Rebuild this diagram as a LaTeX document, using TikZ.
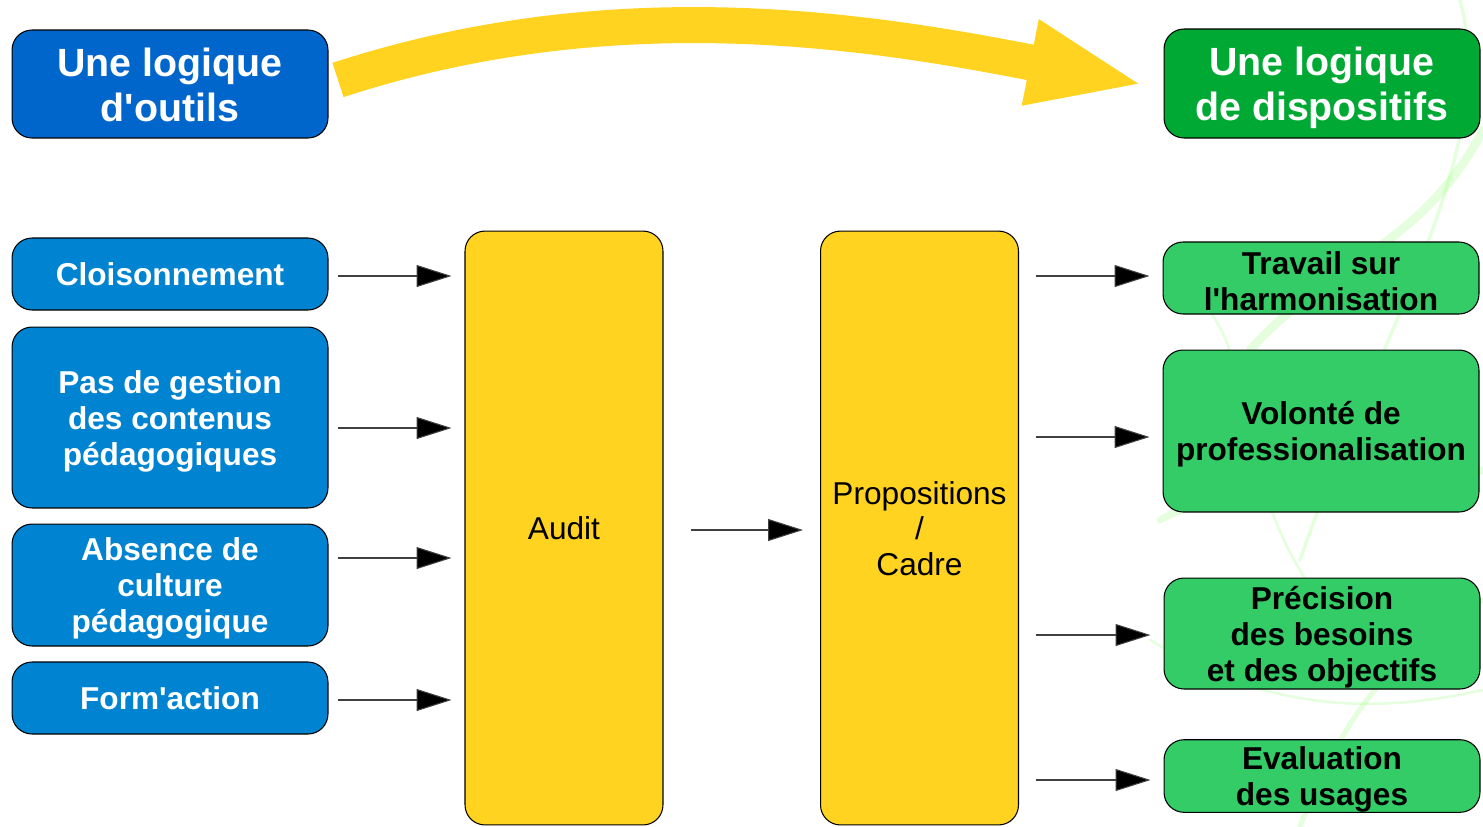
\documentclass[tikz,border=0pt]{standalone}
\usepackage{fontspec}
\setmainfont{Liberation Sans}
\usetikzlibrary{arrows.meta}

\definecolor{toolblue}{HTML}{0066CC}
\definecolor{itemblue}{HTML}{0084D1}
\definecolor{devgreen}{HTML}{00A933}
\definecolor{itemgreen}{HTML}{33CC66}
\definecolor{auditgold}{HTML}{FFD320}

\newcommand{\apos}{\textquotesingle}
\newcommand{\lead}[1][0.95em]{\rule{0pt}{#1}}

\begin{document}
\begin{tikzpicture}[x=0.02cm,y=-0.02cm,
    box/.style={draw=black,line width=0.6pt,rounded corners=0.4cm,minimum width=6.32cm,
      inner sep=0pt,align=center,font=\bfseries\fontsize{18}{20.4}\selectfont},
    titre/.style={box,text=white,minimum height=2.16cm,font=\bfseries\fontsize{22.4}{25.6}\selectfont},
    outil/.style={box,fill=itemblue,text=white},
    dispo/.style={box,fill=itemgreen,text=black},
    pillar/.style={box,fill=auditgold,minimum width=3.96cm,minimum height=11.88cm,
      font=\fontsize{18}{20.2}\selectfont},
    link/.style={draw=black!75,line width=0.6pt,-{Triangle[length=0.7cm,width=0.44cm,fill=black]}},
    smoke/.style={draw=green!70!lime,opacity=0.13,line cap=round}
  ]
  \useasboundingbox (0,0) rectangle (1483,826);

  % background wisps
  \draw[smoke,line width=5pt] (1483,130) .. controls (1420,250) and (1330,260) .. (1250,350);
  \draw[smoke,line width=2pt] (1460,0) .. controls (1500,150) and (1380,330) .. (1300,560);
  \draw[smoke,line width=4pt] (1160,520) .. controls (1250,470) and (1380,520) .. (1483,470);
  \draw[smoke,line width=1.5pt] (1200,300) .. controls (1260,360) and (1230,480) .. (1320,600);
  \draw[smoke,line width=3pt] (1483,600) .. controls (1400,650) and (1350,700) .. (1300,826);
  \draw[smoke,line width=1.5pt] (1150,640) .. controls (1250,700) and (1350,720) .. (1483,690);

  % big arrow on top
  \draw[auditgold,line width=0.72cm,-{Triangle[length=2.34cm,width=1.56cm]}]
    (338,80) .. controls (613,-10) and (866,30) .. (1145,85);

  % titles
  \node[titre,fill=toolblue] (outils) at (170,84) {\lead[0.75em]Une logique\\d\apos outils};
  \node[titre,fill=devgreen,minimum height=2.18cm] (dispositifs) at (1322,83.5) {\lead Une logique\\de dispositifs};

  % left column
  \node[outil,minimum height=1.44cm] (cloison) at (170,274) {Cloisonnement};
  \node[outil,minimum height=3.62cm] (gestion) at (170,417.5) {\lead Pas de gestion\\des contenus\\pédagogiques};
  \node[outil,minimum height=2.44cm] (culture) at (170,585) {\lead Absence de\\culture\\pédagogique};
  \node[outil,minimum height=1.44cm] (formaction) at (170,698) {Form\apos action};

  % middle
  \node[pillar] (audit) at (564,528) {Audit};
  \node[pillar] (cadre) at (919.5,528) {\lead[0.76em]Propositions\\/\\Cadre};

  % right column
  \node[dispo,minimum height=1.44cm] (harmo) at (1321,278) {\lead Travail sur\\l\apos harmonisation};
  \node[dispo,minimum height=3.24cm] (pro) at (1321,431) {\lead Volonté de\\professionalisation};
  \node[dispo,minimum height=2.22cm] (besoins) at (1322,633.5) {\lead Précision\\des besoins\\et des objectifs};
  \node[dispo,minimum height=1.44cm] (usages) at (1322,776) {\lead Evaluation\\des usages};

  % connectors
  \draw[link,shorten <=0.2cm,shorten >=0.26cm] ([yshift=-0.04cm]cloison.east) -- ([yshift=-0.04cm]cloison.east -| audit.west);
  \draw[link,shorten <=0.2cm,shorten >=0.26cm] ([yshift=-0.21cm]gestion.east) -- ([yshift=-0.21cm]gestion.east -| audit.west);
  \draw[link,shorten <=0.2cm,shorten >=0.26cm] ([yshift=0.54cm]culture.east) -- ([yshift=0.54cm]culture.east -| audit.west);
  \draw[link,shorten <=0.2cm,shorten >=0.26cm] ([yshift=-0.04cm]formaction.east) -- ([yshift=-0.04cm]formaction.east -| audit.west);
  \draw[link,shorten <=0.54cm,shorten >=0.34cm] ([yshift=-0.04cm]audit.east) -- ([yshift=-0.04cm]cadre.west);
  \draw[link,shorten <=0.34cm,shorten >=0.26cm] ([yshift=0.04cm]cadre.east |- harmo.west) -- ([yshift=0.04cm]harmo.west);
  \draw[link,shorten <=0.34cm,shorten >=0.26cm] ([yshift=-0.12cm]cadre.east |- pro.west) -- ([yshift=-0.12cm]pro.west);
  \draw[link,shorten <=0.34cm,shorten >=0.26cm] ([yshift=-0.03cm]cadre.east |- besoins.west) -- ([yshift=-0.03cm]besoins.west);
  \draw[link,shorten <=0.34cm,shorten >=0.26cm] ([yshift=-0.08cm]cadre.east |- usages.west) -- ([yshift=-0.08cm]usages.west);
\end{tikzpicture}
\end{document}
